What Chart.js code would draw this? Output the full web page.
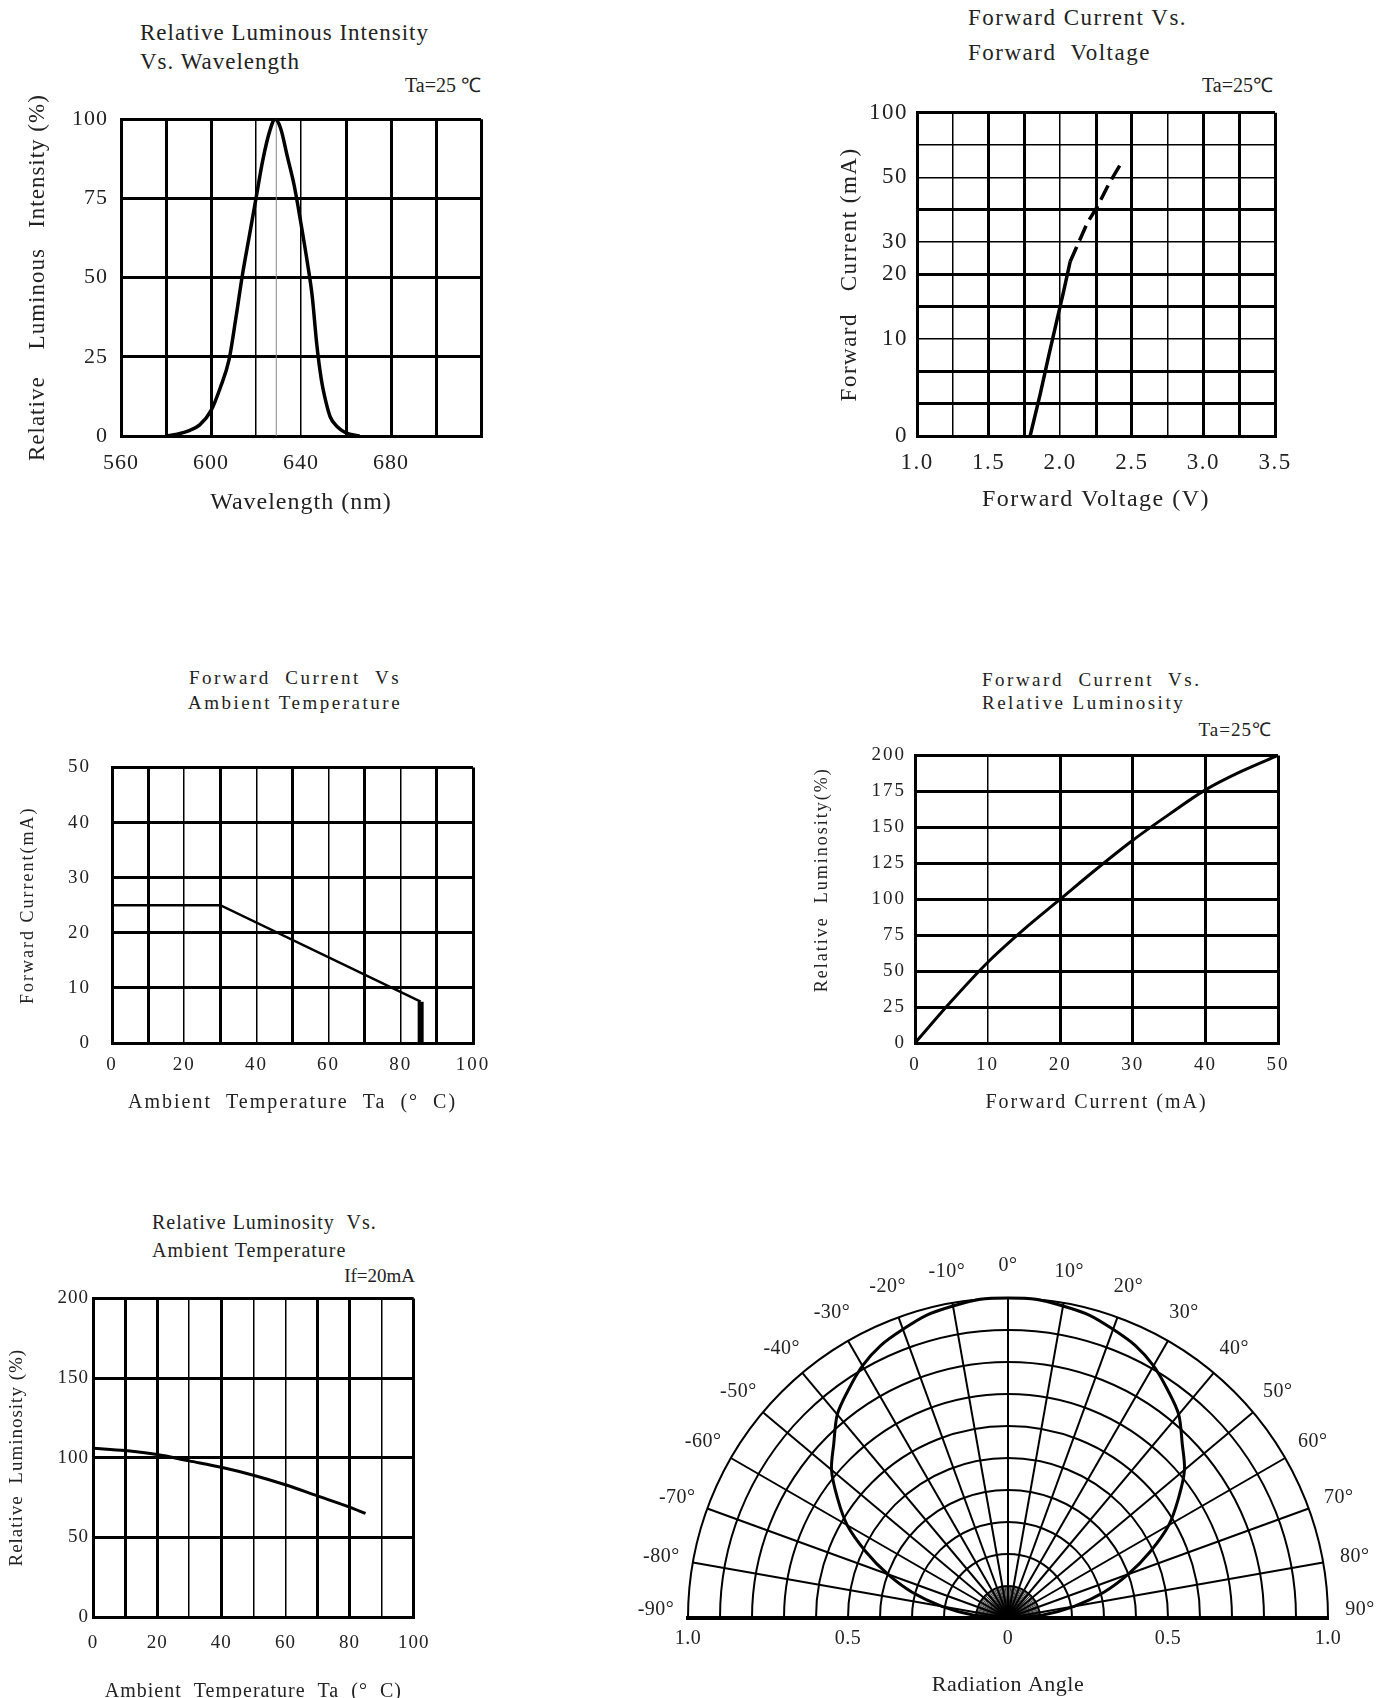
<!DOCTYPE html>
<html>
<head>
<meta charset="utf-8">
<script src="https://cdn.jsdelivr.net/npm/chart.js@4.4.1/dist/chart.umd.min.js"></script>
<style>
body { margin: 0; background: #fff; }
#page { position: relative; width: 1396px; height: 1698px; overflow: hidden; font-family: 'Liberation Serif', 'Times New Roman', serif; color: #222; }
canvas { position: absolute; }
.t { position: absolute; white-space: pre; }
</style>
</head>
<body>
<div id="page">
	<div class="t" style="left:140px;top:18px;font-size:23px;line-height:29px;letter-spacing:1px">Relative Luminous Intensity
Vs. Wavelength</div>
	<div class="t" style="right:915px;top:73px;font-size:20px;line-height:24px">Ta=25 ℃</div>

	<div class="t" style="left:968px;top:0px;font-size:23px;line-height:35px;letter-spacing:1.5px">Forward Current Vs.
Forward  Voltage</div>
	<div class="t" style="right:123px;top:73px;font-size:20px;line-height:24px">Ta=25℃</div>

	<div class="t" style="left:95px;width:400px;text-align:center;top:665px;font-size:19px;line-height:25px;letter-spacing:2.5px">Forward  Current  Vs
Ambient Temperature</div>

	<div class="t" style="left:982px;top:668px;font-size:19px;line-height:23px;letter-spacing:2.5px">Forward  Current  Vs.
Relative Luminosity</div>
	<div class="t" style="right:124px;top:718px;font-size:19px;line-height:23px;letter-spacing:1px">Ta=25℃</div>

	<div class="t" style="left:152px;top:1208px;font-size:20px;line-height:28px;letter-spacing:1px">Relative Luminosity  Vs.
Ambient Temperature</div>
	<div class="t" style="right:981px;top:1264px;font-size:19px;line-height:24px">If=20mA</div>

	<canvas id="g1"></canvas>
	<canvas id="g2"></canvas>
	<canvas id="g3"></canvas>
	<canvas id="g4"></canvas>
	<canvas id="g5"></canvas>
	<canvas id="g6"></canvas>
</div>
<script>
const SERIF = "'Liberation Serif', 'Times New Roman', serif"
const TXT = "#222"
const GROSSA = 3
const FINA = 1.5

// 1 - intensidade relativa x comprimento de onda
const wlNm = [580, 585, 590, 595, 600, 604, 608, 611, 614, 617, 620, 623, 626, 628.5, 631, 634, 637, 640, 643, 645, 647, 649, 651, 653, 656, 660, 666]
const wlRel = [0, 0.6, 1.6, 3.5, 8, 15, 24, 37, 51, 63, 75, 87, 96, 100, 97, 88, 79, 67, 54, 44, 29, 18, 11, 6, 3, 1, 0]
const wlTicks = [560, 600, 640, 680]
const wlPeak = 629

// 2 - corrente x tensao direta (eixo y nao linear)
const fvVolt = [1.79, 1.86, 1.92, 1.98, 2.02, 2.07, 2.11, 2.19, 2.26, 2.34, 2.42]
const fvCurr = [0, 4.3, 8.3, 13.2, 17, 24, 28, 36, 41, 48, 60]
const fvDashFrom = 2.07
const fvTickMA = [0, 10, 20, 30, 50, 100]
const fvTickPos = [0, 3, 5, 6, 8, 10]

// 3 - corrente x temperatura ambiente
const ifTemp = [0, 30, 85.5, 85.5]
const ifCurr = [25, 25, 7.5, 0]

// 4 - luminosidade relativa x corrente
const rlCurr = [0, 5, 10, 15, 20, 25, 30, 35, 40, 45, 50]
const rlLum = [0, 29, 56, 79, 100, 121, 141, 159, 176, 189, 200]

// 5 - luminosidade relativa x temperatura
const ltTemp = [0, 10, 20, 30, 40, 50, 60, 70, 80, 85]
const ltLum = [106, 104.5, 102, 98, 94, 89, 83, 76, 69, 65]

// 6 - diagrama de radiacao
const radAngles = [-90, -85, -80, -75, -70, -65, -60, -55, -50, -45, -40, -35, -30, -25, -20, -15, -10, -5, 0, 5, 10, 15, 20, 25, 30, 35, 40, 45, 50, 55, 60, 65, 70, 75, 80, 85, 90]
const radRel = [0, 0.11, 0.21, 0.31, 0.40, 0.49, 0.58, 0.65, 0.72, 0.77, 0.83, 0.87, 0.91, 0.94, 0.96, 0.98, 0.99, 1.00, 1.00, 1.00, 0.99, 0.98, 0.96, 0.94, 0.91, 0.87, 0.83, 0.77, 0.72, 0.65, 0.58, 0.49, 0.40, 0.31, 0.21, 0.11, 0]
const radRings = [0.1, 0.2, 0.3, 0.4, 0.5, 0.6, 0.7, 0.8, 0.9, 1.0]
const radSpokes = [-80, -70, -60, -50, -40, -30, -20, -10, 0, 10, 20, 30, 40, 50, 60, 70, 80]
const radLabels = [-90, -80, -70, -60, -50, -40, -30, -20, -10, 0, 10, 20, 30, 40, 50, 60, 70, 80, 90]
const radBase = [-1, -0.5, 0, 0.5, 1]

Chart.defaults.font.family = SERIF
Chart.defaults.color = TXT
Chart.defaults.animation = false
Chart.defaults.plugins.legend.display = false
Chart.defaults.plugins.tooltip.enabled = false
Chart.defaults.elements.point.radius = 0

// espacamento de letras no canvas (o original tem texto bem espalhado)
var espaco = {
	id: "espaco",
	afterInit(c, a, o) { c.ctx.letterSpacing = (o.px || 0) + "px" },
	beforeDraw(c, a, o) { c.ctx.letterSpacing = (o.px || 0) + "px" },
}
Chart.register(espaco)

function montaCanvas(id, left, top, w, h) {
	var c = document.getElementById(id)
	c.width = w
	c.height = h
	c.style.left = left + "px"
	c.style.top = top + "px"
	c.style.width = w + "px"
	c.style.height = h + "px"
	return c
}

function eixo(o) {
	return {
		type: "linear",
		min: o.min,
		max: o.max,
		afterFit: o.fit,
		ticks: {
			stepSize: o.step,
			autoSkip: false,
			maxRotation: 0,
			padding: o.pad,
			color: TXT,
			font: { size: o.fs },
			callback: o.cb,
		},
		grid: {
			color: "#000",
			lineWidth: (c) => ((o.finas || []).includes(c.index) ? FINA : GROSSA),
			drawTicks: false,
		},
		border: { color: "#000", width: GROSSA },
		title: { display: true, text: o.titulo, color: TXT, font: { size: o.tfs }, padding: o.tpad },
	}
}

function pontos(xs, ys) {
	return xs.map((x, i) => ({ x: x, y: ys[i] }))
}

// posicao no eixo y do grafico 2 a partir da corrente em mA
function mAparaPos(mA) {
	for (let i = 1; i < fvTickMA.length; i++) {
		if (mA <= fvTickMA[i]) {
			let f = (mA - fvTickMA[i - 1]) / (fvTickMA[i] - fvTickMA[i - 1])
			return fvTickPos[i - 1] + f * (fvTickPos[i] - fvTickPos[i - 1])
		}
	}
	return fvTickPos[fvTickPos.length - 1]
}

// GRAFICO 1
new Chart(montaCanvas("g1", 16, 93, 489, 435), {
	type: "scatter",
	data: {
		datasets: [
			{ data: pontos(wlNm, wlRel), showLine: true, borderColor: "#000", borderWidth: 3.5, cubicInterpolationMode: "monotone" },
			{ data: [{ x: wlPeak, y: 0 }, { x: wlPeak, y: 100 }], showLine: true, borderColor: "#888", borderWidth: 1, clip: false },
		],
	},
	options: {
		responsive: false,
		layout: { padding: { top: 12, right: 24, left: 0, bottom: 0 } },
		plugins: { espaco: { px: 1 } },
		scales: {
			x: eixo({ min: 560, max: 720, step: 20, pad: 14, fs: 22, cb: (v) => (wlTicks.includes(v) ? v : ""), finas: [3, 4],
				titulo: "Wavelength (nm)", tfs: 24, tpad: { top: 0, bottom: 11 }, fit: (s) => { s.height = 92 } }),
			y: eixo({ min: 0, max: 100, step: 25, pad: 13, fs: 22, cb: (v) => v,
				titulo: "Relative    Luminous   Intensity (%)", tfs: 23, tpad: { top: 8, bottom: 0 }, fit: (s) => { s.width = 105 } }),
		},
	},
})

// GRAFICO 2
new Chart(montaCanvas("g2", 822, 90, 493, 436), {
	type: "scatter",
	data: {
		datasets: [
			{
				data: fvVolt.map((v, i) => ({ x: v, y: mAparaPos(fvCurr[i]) })),
				showLine: true,
				borderColor: "#000",
				borderWidth: 3.5,
				segment: { borderDash: (c) => (fvVolt[c.p0DataIndex] >= fvDashFrom ? [16, 7] : undefined) },
			},
		],
	},
	options: {
		responsive: false,
		layout: { padding: { top: 14, right: 40, left: 0, bottom: 0 } },
		plugins: { espaco: { px: 1.5 } },
		scales: {
			x: eixo({ min: 1, max: 3.5, step: 0.25, pad: 13, fs: 23,
				cb: (v) => (Math.abs(v * 2 - Math.round(v * 2)) < 1e-9 ? v.toFixed(1) : ""), finas: [1, 4, 7],
				titulo: "Forward Voltage (V)", tfs: 24, tpad: { top: 0, bottom: 12 }, fit: (s) => { s.height = 90 } }),
			y: eixo({ min: 0, max: 10, step: 1, pad: 9, fs: 23,
				cb: (v) => { let i = fvTickPos.indexOf(v); return i < 0 ? "" : String(fvTickMA[i]) }, finas: [3, 6, 8, 9],
				titulo: "Forward   Current (mA)", tfs: 23, tpad: { top: 14, bottom: 0 }, fit: (s) => { s.width = 95 } }),
		},
	},
})

// GRAFICO 3
new Chart(montaCanvas("g3", 4, 735, 499, 388), {
	type: "scatter",
	data: {
		datasets: [
			{
				data: pontos(ifTemp, ifCurr),
				showLine: true,
				borderColor: "#000",
				borderWidth: 2.5,
				segment: { borderWidth: (c) => (c.p1DataIndex === ifTemp.length - 1 ? 6 : 2.5) },
			},
		],
	},
	options: {
		responsive: false,
		layout: { padding: { top: 14, right: 30, left: 0, bottom: 0 } },
		plugins: { espaco: { px: 2 } },
		scales: {
			x: eixo({ min: 0, max: 100, step: 10, pad: 11, fs: 19, cb: (v) => (v % 20 === 0 ? v : ""), finas: [2, 4, 6, 8],
				titulo: "Ambient  Temperature  Ta  (°  C)", tfs: 20, tpad: { top: 0, bottom: 8 }, fit: (s) => { s.height = 80 } }),
			y: eixo({ min: 0, max: 50, step: 10, pad: 21, fs: 19, cb: (v) => v,
				titulo: "Forward Current(mA)", tfs: 18, tpad: { top: 13, bottom: 0 }, fit: (s) => { s.width = 108 } }),
		},
	},
})

// GRAFICO 4
new Chart(montaCanvas("g4", 800, 735, 508, 388), {
	type: "scatter",
	data: {
		datasets: [{ data: pontos(rlCurr, rlLum), showLine: true, borderColor: "#000", borderWidth: 3, cubicInterpolationMode: "monotone" }],
	},
	options: {
		responsive: false,
		layout: { padding: { top: 14, right: 30, left: 0, bottom: 0 } },
		plugins: { espaco: { px: 2 } },
		scales: {
			x: eixo({ min: 0, max: 50, step: 10, pad: 11, fs: 19, cb: (v) => v, finas: [1],
				titulo: "Forward Current (mA)", tfs: 20, tpad: { top: 0, bottom: 8 }, fit: (s) => { s.height = 80 } }),
			y: eixo({ min: 0, max: 200, step: 25, pad: 9, fs: 19, cb: (v) => v,
				titulo: "      Relative  Luminosity(%)", tfs: 18, tpad: { top: 11, bottom: 0 }, fit: (s) => { s.width = 115 } }),
		},
	},
})

// GRAFICO 5
new Chart(montaCanvas("g5", 0, 1283, 444, 429), {
	type: "scatter",
	data: {
		datasets: [{ data: pontos(ltTemp, ltLum), showLine: true, borderColor: "#000", borderWidth: 3, cubicInterpolationMode: "monotone" }],
	},
	options: {
		responsive: false,
		layout: { padding: { top: 14, right: 30, left: 0, bottom: 0 } },
		plugins: { espaco: { px: 1 } },
		scales: {
			x: eixo({ min: 0, max: 100, step: 10, pad: 14.6, fs: 19, cb: (v) => (v % 20 === 0 ? v : ""), finas: [3, 5, 6, 9],
				titulo: "Ambient  Temperature  Ta  (°  C)", tfs: 20, tpad: { top: 0, bottom: 8 }, fit: (s) => { s.height = 95 } }),
			y: eixo({ min: 0, max: 200, step: 50, pad: 4, fs: 19, cb: (v) => v,
				titulo: "Relative  Luminosity (%)", tfs: 19, tpad: { top: 5.6, bottom: 0 }, fit: (s) => { s.width = 93 } }),
		},
	},
})

// GRAFICO 6 - grade polar desenhada pelas escalas x/y
var gradePolar = {
	id: "gradePolar",
	beforeDatasetsDraw(chart) {
		const ctx = chart.ctx
		const sx = chart.scales.x
		const sy = chart.scales.y
		const cx = sx.getPixelForValue(0)
		const cy = sy.getPixelForValue(0)
		const rx = sx.getPixelForValue(1) - cx
		const ry = cy - sy.getPixelForValue(1)
		ctx.save()
		ctx.strokeStyle = "#000"
		ctx.lineWidth = 2
		for (const r of radRings) {
			ctx.beginPath()
			ctx.ellipse(cx, cy, rx * r, ry * r, 0, Math.PI, 2 * Math.PI)
			ctx.stroke()
		}
		for (const a of radSpokes) {
			const t = (a * Math.PI) / 180
			ctx.beginPath()
			ctx.moveTo(cx, cy)
			ctx.lineTo(cx + rx * Math.sin(t), cy - ry * Math.cos(t))
			ctx.stroke()
		}
		// leque denso perto do centro
		ctx.lineWidth = 0.8
		for (let a = -87.5; a <= 87.5; a += 2.5) {
			const t = (a * Math.PI) / 180
			ctx.beginPath()
			ctx.moveTo(cx, cy)
			ctx.lineTo(cx + rx * 0.1 * Math.sin(t), cy - ry * 0.1 * Math.cos(t))
			ctx.stroke()
		}
		ctx.fillStyle = TXT
		ctx.font = "20px " + SERIF
		ctx.textAlign = "center"
		ctx.textBaseline = "middle"
		for (const a of radLabels) {
			const t = (a * Math.PI) / 180
			let px = cx + rx * 1.1 * Math.sin(t)
			let py = cy - ry * 1.1 * Math.cos(t)
			if (Math.abs(a) === 90) py -= 8
			ctx.fillText(a + "°", px, py)
		}
		ctx.restore()
	},
}

new Chart(montaCanvas("g6", 600, 1240, 796, 458), {
	type: "scatter",
	data: {
		datasets: [
			{
				data: radAngles.map((a, i) => ({
					x: radRel[i] * Math.sin((a * Math.PI) / 180),
					y: radRel[i] * Math.cos((a * Math.PI) / 180),
				})),
				showLine: true,
				borderColor: "#000",
				borderWidth: 3,
				tension: 0.3,
				clip: false,
			},
		],
	},
	options: {
		responsive: false,
		layout: { padding: { top: 58, right: 68, left: 88, bottom: 0 } },
		plugins: { espaco: { px: 0.5 } },
		scales: {
			x: {
				type: "linear",
				min: -1,
				max: 1,
				afterFit: (s) => { s.height = 80 },
				afterBuildTicks: (s) => { s.ticks = radBase.map((v) => ({ value: v })) },
				ticks: { padding: 9, color: TXT, font: { size: 20 }, maxRotation: 0, autoSkip: false,
					callback: (v) => (v === 0 ? "0" : Math.abs(v).toFixed(1)) },
				grid: { display: false, drawTicks: false },
				border: { color: "#000", width: 4 },
				title: { display: true, text: "Radiation Angle", color: TXT, font: { size: 22 }, padding: { top: 0, bottom: 0 } },
			},
			y: { type: "linear", min: 0, max: 1, display: false },
		},
	},
	plugins: [gradePolar],
})
</script>
</body>
</html>
